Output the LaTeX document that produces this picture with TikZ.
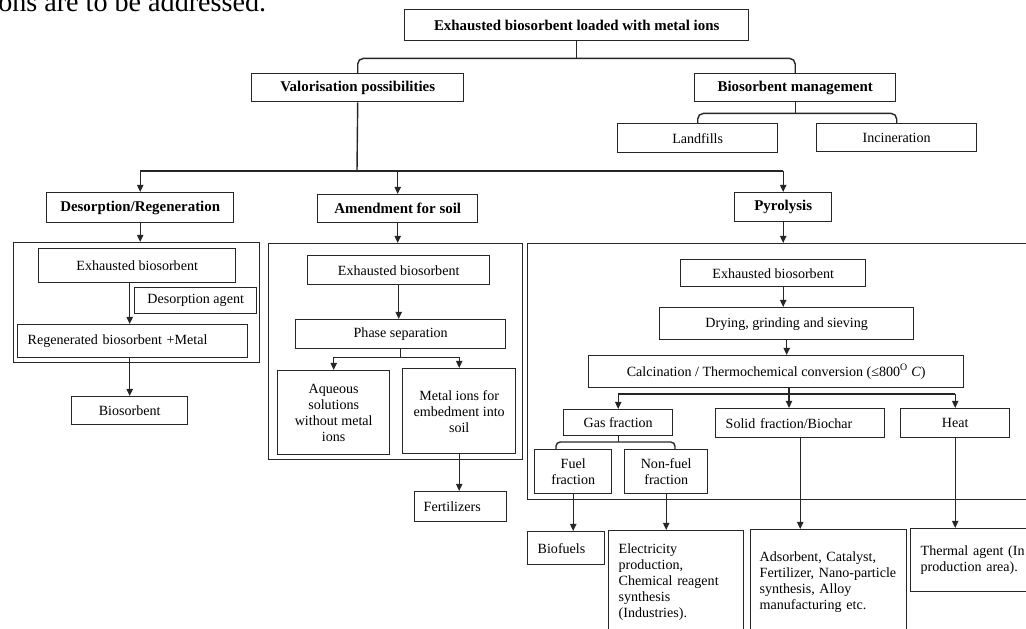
\documentclass[tikz,border=0pt]{standalone}
\usepackage{fontspec}
\setmainfont{Liberation Serif}
\usetikzlibrary{positioning,arrows.meta,calc}
\tikzset{
  flowbox/.style={draw=black!85, line width=1pt, align=center, inner sep=2pt,
    font=\fontsize{10}{11.4}\selectfont, anchor=north west},
  headbox/.style={flowbox, font=\fontsize{10.6}{12}\selectfont\bfseries},
  leftbox/.style={flowbox, align=left, inner xsep=7.1pt},
  groupbox/.style={draw=black!85, line width=1pt, anchor=north west, inner sep=0pt},
  flowline/.style={draw=black!85, line width=1pt},
  flowarrow/.style={flowline, -{Triangle[length=5pt,width=4.4pt]}},
  boxw/.style={minimum width=#1*0.025cm},
  boxh/.style={minimum height=#1*0.025cm},
}

\begin{document}
\begin{tikzpicture}[x=0.025cm, y=-0.025cm]
  \useasboundingbox (0,0) rectangle (1026,629);
  % text of the page above the figure
  \node[anchor=base west, inner sep=0pt, font=\fontsize{20}{20}\selectfont] (pagetext) at (-2,12) {ons are to be addressed.};

  % top of the tree
  \node[headbox, boxw=344, boxh=31] (top) at (404,9) {Exhausted biosorbent loaded with metal ions};
  \node[headbox, boxw=212, boxh=28] (valor) at (251,73) {Valorisation possibilities};
  \node[headbox, boxw=201, boxh=28] (mgmt) at (694,73) {Biosorbent management};
  \node[flowbox, boxw=160, boxh=29] (landfill) at (617,123) {Landfills};
  \node[flowbox, boxw=160, boxh=28] (incin) at (816,123) {Incineration};
  \draw[flowline, rounded corners=4] (valor.north) |- ($(top.south)+(0,17)$) -| (mgmt.north);
  \draw[flowline] (top.south) -- ++(0,17);
  \draw[flowline, rounded corners=4] (landfill.north) |- ($(mgmt.south)+(0,11)$) -| (incin.north);
  \draw[flowline] (mgmt.south) -- ++(0,11);

  % three valorisation routes
  \node[headbox, boxw=187, boxh=30] (desorb) at (46,192) {Desorption/Regeneration};
  \node[headbox, boxw=160, boxh=28] (amend) at (317,194) {Amendment for soil};
  \node[headbox, boxw=97, boxh=29] (pyro) at (734,192) {Pyrolysis};
  \coordinate (split) at (357,171);
  \draw[flowline] (valor.south) -- (split);
  \draw[flowline] (desorb.north |- split) -- (pyro.north |- split);
  \foreach \n in {desorb,amend,pyro}
    \draw[flowarrow] (\n.north |- split) -- (\n.north);

  \node[groupbox, boxw=246, boxh=120] (desbox) at (13,242) {};
  \node[groupbox, boxw=254, boxh=216] (ambox) at (268,243) {};
  \node[groupbox, boxw=508, boxh=256] (pybox) at (527,243) {};
  \draw[flowarrow] (desorb.south) -- (desorb.south |- desbox.north);
  \draw[flowarrow] (amend.south) -- (amend.south |- ambox.north);
  \draw[flowarrow] (pyro.south) -- (pyro.south |- pybox.north);

  % desorption / regeneration
  \node[flowbox, boxw=197, boxh=34] (exh1) at (38,248) {Exhausted biosorbent};
  \node[flowbox, boxw=122, boxh=26] (agent) at (134,287) {Desorption agent};
  \node[leftbox, text width=149.4pt, boxh=33] (regen) at (17,324) {Regenerated biosorbent +Metal};
  \node[flowbox, boxw=116, boxh=28] (bios) at (71,396) {Biosorbent};
  \draw[flowarrow] (exh1.south -| bios.north) -- (regen.north -| bios.north);
  \draw[flowarrow] (regen.south -| bios.north) -- (bios.north);

  % amendment for soil
  \node[flowbox, boxw=182, boxh=29] (exh2) at (307,255) {Exhausted biosorbent};
  \node[flowbox, boxw=210, boxh=29] (phase) at (295,319) {Phase separation};
  \node[flowbox, boxw=112, boxh=84] (aqua) at (277,370) {Aqueous\\solutions\\without metal\\ions};
  \node[flowbox, boxw=113, boxh=85] (metal) at (402,368) {Metal ions for\\embedment into\\soil};
  \node[leftbox, inner xsep=6.4pt, text width=52.6pt, boxh=30] (fert) at (414,491) {Fertilizers};
  \draw[flowarrow] (exh2.south) -- (exh2.south |- phase.north);
  \draw[flowline] (phase.south) -- ++(0,8) coordinate (phasefork);
  \draw[flowline] (aqua.north |- phasefork) -- (metal.north |- phasefork);
  \draw[flowarrow] (aqua.north |- phasefork) -- (aqua.north);
  \draw[flowarrow] (metal.north |- phasefork) -- (metal.north);
  \draw[flowarrow] (metal.south) -- (metal.south |- fert.north);

  % pyrolysis
  \node[flowbox, boxw=185, boxh=27] (exh3) at (680,259) {Exhausted biosorbent};
  \node[flowbox, boxw=254, boxh=32] (dry) at (659,307) {Drying, grinding and sieving};
  \node[flowbox, boxw=375, boxh=32] (calc) at (588,355) {Calcination / Thermochemical conversion (≤800\textsuperscript{O} \textit{C})};
  \node[flowbox, boxw=109, boxh=26] (gas) at (563,409) {Gas fraction};
  \node[leftbox, text width=106pt, boxh=29] (solid) at (715,408) {Solid fraction/Biochar};
  \node[flowbox, boxw=109, boxh=29] (heat) at (900,408) {Heat};
  \node[flowbox, boxw=77, boxh=44] (fuel) at (534,449) {Fuel\\fraction};
  \node[flowbox, boxw=83, boxh=44] (nonfuel) at (624,449) {Non-fuel\\fraction};
  \draw[flowarrow] (exh3.south -| pyro.south) -- (dry.north -| pyro.south);
  \draw[flowarrow] (dry.south) -- (dry.south |- calc.north);
  \coordinate (calcfork) at (789,394);
  \draw[flowline] (calc.south -| calcfork) -- (calcfork);
  \draw[flowline] (gas.north |- calcfork) -- (heat.north |- calcfork);
  \draw[flowarrow] (gas.north |- calcfork) -- (gas.north);
  \draw[flowarrow] (calcfork) -- (solid.north -| calcfork);
  \draw[flowarrow] (heat.north |- calcfork) -- (heat.north);
  \coordinate (gasleft) at (556,442);
  \coordinate (gasright) at (675,442);
  \draw[flowline] (gas.south) -- (gas.south |- gasleft);
  \draw[flowline, rounded corners=3] (fuel.north -| gasleft) |- (gasright) -- (nonfuel.north -| gasright);

  % end uses
  \node[leftbox, text width=40.5pt, boxh=33] (biofuel) at (527,531) {Biofuels};
  \node[leftbox, text width=81.8pt, boxh=102] (elec) at (608,530) {Electricity\\production,\\Chemical reagent\\synthesis\\(Industries).};
  \node[leftbox, inner xsep=6.4pt, text width=98pt, boxh=104] (ads) at (750,529) {Adsorbent, Catalyst,\\Fertilizer, Nano-particle\\synthesis, Alloy\\manufacturing etc.};
  \node[leftbox, text width=74.7pt, boxh=63] (thermal) at (910,528) {Thermal agent (In\\production area).};
  \draw[flowarrow] (fuel.south) -- (fuel.south |- biofuel.north);
  \draw[flowarrow] (nonfuel.south) -- (nonfuel.south |- elec.north);
  \draw[flowarrow] (solid.south) -- (solid.south |- ads.north);
  \draw[flowarrow] (heat.south) -- (heat.south |- thermal.north);
\end{tikzpicture}
\end{document}
